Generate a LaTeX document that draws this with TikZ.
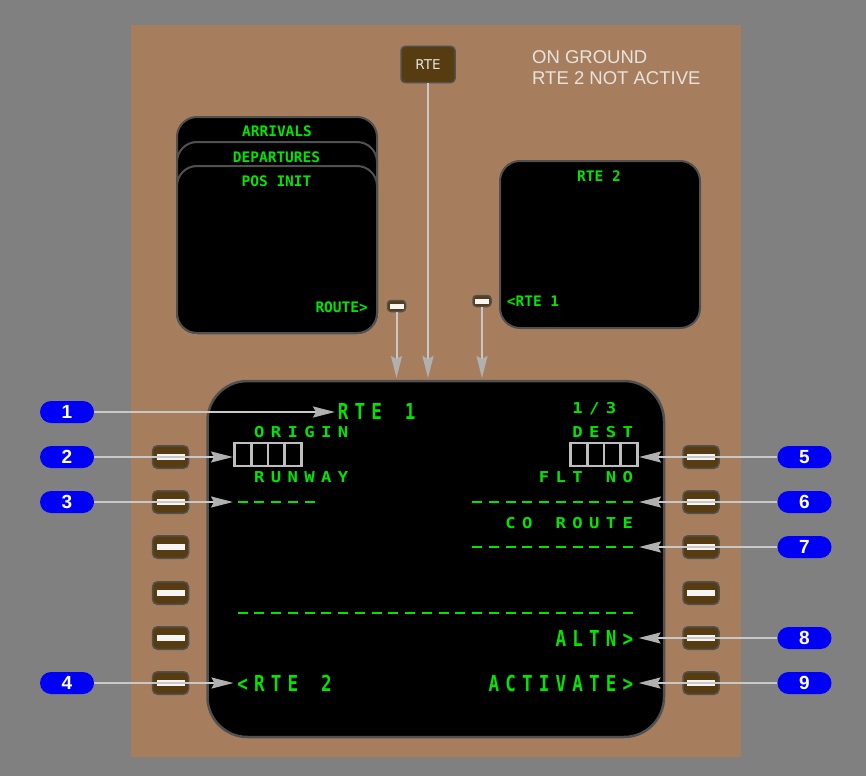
\documentclass[tikz,border=0pt]{standalone}
\usepackage{fontspec}
\setmainfont{Liberation Sans}
\newfontfamily\cduL{DejaVu Sans Mono Bold}[FakeStretch=0.8]
\newfontfamily\cduS{DejaVu Sans Mono Bold}[FakeStretch=1.15]
\newfontfamily\cduP{DejaVu Sans Mono Bold}
\newfontfamily\keyfont{DejaVu Sans}
\usetikzlibrary{arrows.meta}
\definecolor{bggray}{HTML}{808080}
\definecolor{panel}{HTML}{A67E5E}
\definecolor{btn}{HTML}{573C12}
\definecolor{cdugreen}{HTML}{00E600}
\definecolor{boxgray}{HTML}{BEBEBE}
\definecolor{rim}{HTML}{505050}
\definecolor{linegray}{HTML}{C8C8C8}
\definecolor{headgray}{HTML}{B0B0B0}
\definecolor{notecol}{HTML}{E8E3DE}
\definecolor{pillblue}{HTML}{0000F5}
\newlength\cduw \setlength\cduw{16.75pt}
\makeatletter
\def\cdugrid#1{\cdu@g#1\relax}
\def\cdu@g#1{\ifx\relax#1\else\makebox[\cduw][c]{\if_#1\else#1\fi}\expandafter\cdu@g\fi}
\makeatother
\begin{document}
\begin{tikzpicture}[x=1pt,y=-1pt,
  scr/.style={fill=black,draw=rim,line width=2pt,rounded corners=20pt},
  cdul/.style={text=cdugreen,font=\cduL\fontsize{22}{22}\selectfont,inner sep=0pt,anchor=base west},
  cdus/.style={text=cdugreen,font=\cduS\fontsize{15}{15}\selectfont,inner sep=0pt,anchor=base west},
  cdup/.style={text=cdugreen,font=\cduP\fontsize{14.5}{15}\selectfont,inner sep=0pt,anchor=base},
  cdudash/.style={draw=cdugreen,line width=2.6pt,dash pattern=on 10pt off 6.75pt},
  cellbox/.style={draw=boxgray,line width=2.6pt},
  lsk/.style={draw=rim,line width=1.5pt,fill=btn,rounded corners=5pt,minimum width=36pt,minimum height=22.5pt,inner sep=0pt,
    path picture={\fill[white!92!gray,sharp corners] ([xshift=-14pt,yshift=-3pt]path picture bounding box.center) rectangle ([xshift=14pt,yshift=3pt]path picture bounding box.center);}},
  minilsk/.style={draw=rim,line width=1.5pt,fill=btn,rounded corners=3.5pt,minimum width=18pt,minimum height=11pt,inner sep=0pt,
    path picture={\fill[white!92!gray,sharp corners] ([xshift=-7pt,yshift=-2.5pt]path picture bounding box.center) rectangle ([xshift=7pt,yshift=2.5pt]path picture bounding box.center);}},
  pill/.style={fill=pillblue,rounded corners=11pt,minimum width=54pt,minimum height=22pt,inner sep=0pt,text=white,font=\bfseries\fontsize{19}{19}\selectfont},
  arr/.style={draw=linegray,line width=2pt,-{Stealth[length=22pt,width=11pt,inset=3pt,color=headgray]}},
  notetext/.style={text=notecol,font=\fontsize{18.5}{21}\selectfont,inner sep=0pt,anchor=base west}
]
\useasboundingbox[fill=bggray] (0,0) rectangle (866,776);
\fill[panel] (131,25) rectangle (741,757);

% stacked pages
\draw[scr] (177,117) rectangle (377,333);
\draw[scr] (177,142) rectangle (377,333);
\draw[scr] (177,166) rectangle (377,333);
\node[cdup] (arrivals) at (277,136.8) {ARRIVALS};
\node[cdup] (departures) at (276.5,162.2) {DEPARTURES};
\node[cdup] (posinit) at (276.5,186) {POS INIT};
\node[cdup] (route) at (341.7,312.2) {ROUTE>};

% RTE 2 page
\draw[scr] (500,161) rectangle (700,328);
\node[cdup] (rtetwotitle) at (599,181.3) {RTE 2};
\node[cdup] (rteone) at (533,306) {<RTE 1};

% notes
\node[notetext] (note1) at (532,63.3) {ON GROUND};
\node[notetext] (note2) at (532,84) {RTE 2 NOT ACTIVE};

% RTE key
\node[draw=rim,line width=1.5pt,fill=btn,rounded corners=4pt,minimum width=54pt,minimum height=36pt,inner sep=0pt,text=notecol,font=\keyfont\fontsize{13.5}{14}\selectfont] (rtebtn) at (428,64.5) {RTE};

% small keys
\node[minilsk] (mk1) at (396.5,306) {};
\node[minilsk] (mk2) at (482,301) {};

% main screen
\draw[scr,line width=2.5pt,rounded corners=40pt] (207.5,381) rectangle (664,737);

\node[cdul] (title) at (334.6,419) {\cdugrid{RTE_1}};
\node[cdus] (page) at (569.1,413.5) {\cdugrid{1/3}};
\node[cdus] (origin) at (250.85,437.5) {\cdugrid{ORIGIN}};
\node[cdus] (dest) at (569.1,437.5) {\cdugrid{DEST}};
\node[cdus] (runway) at (250.85,482.5) {\cdugrid{RUNWAY}};
\node[cdus] (fltno) at (535.6,482) {\cdugrid{FLT_NO}};
\node[cdus] (coroute) at (502.1,528) {\cdugrid{CO_ROUTE}};
\node[cdul] (altn) at (552.35,646) {\cdugrid{ALTN>}};
\node[cdul] (activate) at (485.35,691) {\cdugrid{ACTIVATE>}};
\node[cdul] (rtetwo) at (234.1,691) {\cdugrid{<RTE_2}};

% entry boxes
\draw[cellbox] (234.5,443) rectangle (301.5,466);
\draw[cellbox] (251.25,443) -- (251.25,466) (268,443) -- (268,466) (284.75,443) -- (284.75,466);
\draw[cellbox] (570.6,443) rectangle (637.3,466);
\draw[cellbox] (587.3,443) -- (587.3,466) (604,443) -- (604,466) (620.6,443) -- (620.6,466);

% dashes
\draw[cdudash] (237.5,502) -- (314.5,502);
\draw[cdudash] (472,502) -- (632.7,502);
\draw[cdudash] (472,547) -- (632.7,547);
\draw[cdudash] (237.5,613) -- (632.7,613);

% line select keys
\foreach \r/\y in {1/457,2/502,3/547,4/593,5/638,6/683}{
  \node[lsk] (L\r) at (170.5,\y) {};
  \node[lsk] (R\r) at (701,\y) {};
}

% arrow targets
\coordinate (t1) at (335,412);
\coordinate (t2) at (233,457);
\coordinate (t3) at (233,502);
\coordinate (t4) at (233.5,683);
\coordinate (t5) at (639,457);
\coordinate (t6) at (639,502);
\coordinate (t7) at (639,547);
\coordinate (t8) at (638.5,638);
\coordinate (t9) at (638.5,683);
\coordinate (ta) at (396.5,378);
\coordinate (tb) at (428,378);
\coordinate (tc) at (482,378);

% callout pills
\node[pill] (p1) at (67,412) {1};
\node[pill] (p2) at (67,457) {2};
\node[pill] (p3) at (67,502) {3};
\node[pill] (p4) at (67,683) {4};
\node[pill] (p5) at (804.5,457) {5};
\node[pill] (p6) at (804.5,502) {6};
\node[pill] (p7) at (804.5,547) {7};
\node[pill] (p8) at (804.5,638) {8};
\node[pill] (p9) at (804.5,683) {9};

% arrows
\draw[arr] (p1.east) -- (t1);
\draw[arr] (p2.east) -- (t2);
\draw[arr] (p3.east) -- (t3);
\draw[arr] (p4.east) -- (t4);
\draw[arr] (p5.west) -- (t5);
\draw[arr] (p6.west) -- (t6);
\draw[arr] (p7.west) -- (t7);
\draw[arr] (p8.west) -- (t8);
\draw[arr] (p9.west) -- (t9);
\draw[arr] (mk1.south) -- (ta);
\draw[arr] (rtebtn.south) -- (tb);
\draw[arr] (mk2.south) -- (tc);
\end{tikzpicture}
\end{document}
